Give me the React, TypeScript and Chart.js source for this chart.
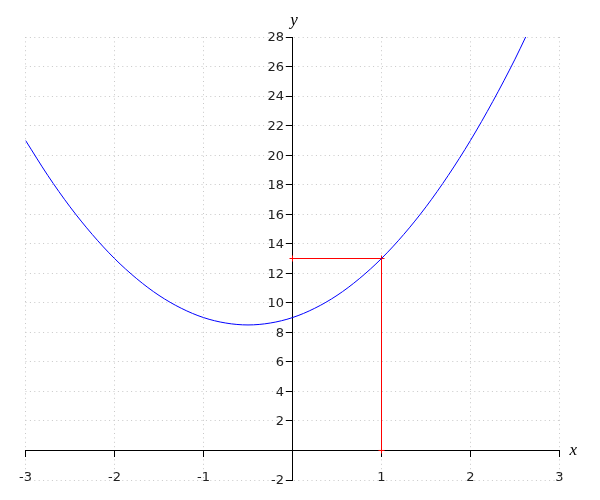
import React, { useEffect, useRef } from "react";
import { Chart, registerables } from "chart.js";

Chart.register(...registerables);

const curveX = [-3, -2.75, -2.5, -2.25, -2, -1.75, -1.5, -1.25, -1, -0.75, -0.5, -0.25, 0, 0.25, 0.5, 0.75, 1, 1.25, 1.5, 1.75, 2, 2.25, 2.5, 2.62];
const curveY = [21, 18.63, 16.5, 14.63, 13, 11.63, 10.5, 9.63, 9, 8.63, 8.5, 8.63, 9, 9.63, 10.5, 11.63, 13, 14.63, 16.5, 18.63, 21, 23.63, 26.5, 28];
const markX = [0, 1, 1];
const markY = [13, 13, 0];
const xRange = [-3, 3];
const yRange = [-2, 28];

const tickFontStr = "13px 'DejaVu Sans'";
const tickFont = { family: "'DejaVu Sans'", size: 13 };

const axisTitles = {
  id: "axisTitles",
  afterDraw(chart: any) {
    const ctx = chart.ctx;
    const xs = chart.scales.x;
    const ys = chart.scales.y;
    const axisX = Math.round(xs.getPixelForValue(0));
    ctx.save();
    // y tick labels, left of the axis
    ctx.fillStyle = "#222";
    ctx.font = tickFontStr;
    ctx.textAlign = "right";
    ctx.textBaseline = "middle";
    ys.ticks.forEach((t: any) => {
      if (t.value === 0) return;
      ctx.fillText(String(t.value), axisX - 9, ys.getPixelForValue(t.value) + 1);
    });
    // axis titles
    ctx.fillStyle = "#000";
    ctx.font = "italic 17px 'Liberation Serif'";
    ctx.textAlign = "left";
    ctx.textBaseline = "middle";
    ctx.fillText("x", xs.right + 10, ys.getPixelForValue(0));
    ctx.textAlign = "center";
    ctx.textBaseline = "bottom";
    ctx.fillText("y", axisX + 1, ys.top - 8);
    ctx.restore();
  },
};

export default function App() {
  const ref = useRef<HTMLCanvasElement>(null);
  useEffect(() => {
    const chart = new Chart(ref.current as HTMLCanvasElement, {
      type: "scatter",
      data: {
        datasets: [
          {
            data: curveX.map((x, i) => ({ x, y: curveY[i] })),
            showLine: true,
            borderColor: "#0000ff",
            borderWidth: 1,
            pointRadius: 0,
            cubicInterpolationMode: "monotone",
          },
          {
            data: markX.map((x, i) => ({ x, y: markY[i] })),
            showLine: true,
            borderColor: "#ff0000",
            borderWidth: 1,
            pointStyle: "cross",
            pointRadius: 3,
            pointBorderColor: "#ff0000",
            pointBorderWidth: 1,
          },
        ],
      } as any,
      options: {
        animation: false,
        responsive: false,
        maintainAspectRatio: false,
        layout: { padding: { left: 25.5, right: 40.5, top: 37, bottom: 20 } },
        plugins: { legend: { display: false }, tooltip: { enabled: false } },
        scales: {
          x: {
            type: "linear",
            min: xRange[0],
            max: xRange[1],
            position: { y: 0 } as any,
            ticks: {
              stepSize: 1,
              color: "#222",
              font: tickFont,
              padding: 13,
              callback: (v: any) => (v === 0 ? "" : String(v)),
            },
            grid: {
              color: "#c8c8c8",
              lineWidth: 1,
              tickColor: "#000",
              tickLength: 6,
              tickBorderDash: [],
            },
            border: { display: true, color: "#000", width: 1, dash: [1, 3.4] },
          },
          y: {
            type: "linear",
            min: yRange[0],
            max: yRange[1],
            position: { x: 0 } as any,
            ticks: {
              stepSize: 2,
              display: false,
            },
            grid: {
              color: "#c8c8c8",
              lineWidth: 1,
              tickColor: "#000",
              tickLength: 6,
              tickBorderDash: [],
            },
            border: { display: true, color: "#000", width: 1, dash: [1, 3.4] },
          },
        },
      } as any,
      plugins: [axisTitles],
    });
    return () => chart.destroy();
  }, []);
  return (
    <div style={{ position: "absolute", left: 0, top: 0, width: 600, height: 500 }}>
      <canvas ref={ref} width={600} height={500} />
    </div>
  );
}
